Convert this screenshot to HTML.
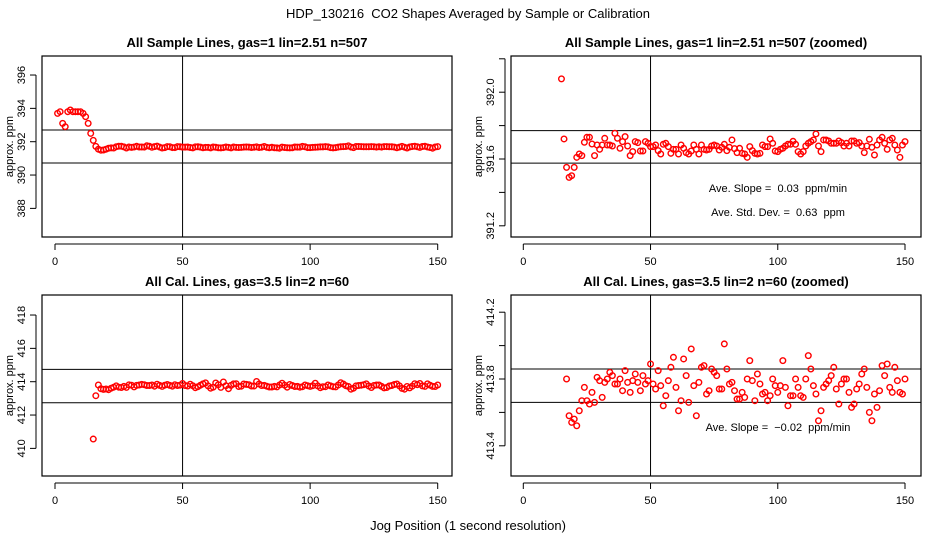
<!DOCTYPE html>
<html><head><meta charset="utf-8"><style>
html,body{margin:0;padding:0;background:#fff;}
svg{display:block;font-family:"Liberation Sans",sans-serif;}
svg text{white-space:pre;}
</style></head><body>
<svg id="c" width="936" height="540" viewBox="0 0 936 540">
<text x="468" y="18" text-anchor="middle" font-size="13">HDP_130216  CO2 Shapes Averaged by Sample or Calibration</text>
<text x="468" y="530" text-anchor="middle" font-size="13">Jog Position (1 second resolution)</text>
</svg>
<script>
// x positions 1..150 (sample)
const sampleHead = [393.7,393.8,393.1,392.9,393.8,393.9,393.8,393.8,393.8,393.8,393.7,393.5,393.1,392.5];
const sampleTail = [392.08,391.72,391.55,391.49,391.50,391.55,391.61,391.63,391.62,391.70,391.73,391.73,391.69,391.62,391.684,391.658,391.684,391.724,391.684,391.684,391.678,391.754,391.724,391.664,391.704,391.734,391.678,391.620,391.644,391.704,391.698,391.648,391.648,391.704,391.694,391.674,391.674,391.684,391.650,391.630,391.688,391.694,391.674,391.634,391.658,391.658,391.630,391.684,391.664,391.638,391.630,391.648,391.684,391.658,391.630,391.684,391.658,391.654,391.658,391.678,391.684,391.678,391.654,391.670,391.688,391.650,391.670,391.714,391.662,391.638,391.664,391.634,391.630,391.610,391.674,391.650,391.634,391.630,391.634,391.684,391.674,391.674,391.720,391.694,391.648,391.644,391.658,391.664,391.678,391.688,391.688,391.706,391.688,391.644,391.630,391.644,391.678,391.694,391.704,391.714,391.750,391.678,391.644,391.714,391.714,391.708,391.694,391.694,391.694,391.708,391.698,391.678,391.694,391.678,391.708,391.708,391.694,391.698,391.678,391.638,391.678,391.718,391.670,391.624,391.684,391.714,391.730,391.694,391.658,391.714,391.724,391.684,391.654,391.610,391.684,391.704];
const sampleValues = sampleHead.concat(sampleTail);
const calHead = [410.56,413.16];
const calTail = [413.80,413.58,413.54,413.56,413.52,413.61,413.67,413.75,413.67,413.65,413.72,413.66,413.81,413.79,413.69,413.78,413.80,413.84,413.82,413.77,413.77,413.80,413.73,413.85,413.78,413.72,413.79,413.83,413.78,413.73,413.82,413.77,413.79,413.89,413.77,413.74,413.85,413.76,413.64,413.70,413.79,413.87,413.93,413.75,413.61,413.67,413.92,413.82,413.66,413.98,413.76,413.58,413.78,413.87,413.88,413.71,413.73,413.86,413.84,413.82,413.74,413.74,414.01,413.86,413.77,413.78,413.73,413.68,413.68,413.72,413.69,413.80,413.91,413.79,413.67,413.83,413.77,413.71,413.72,413.67,413.70,413.80,413.76,413.72,413.76,413.91,413.75,413.64,413.70,413.70,413.80,413.75,413.70,413.69,413.80,413.94,413.86,413.76,413.71,413.55,413.61,413.75,413.77,413.79,413.82,413.87,413.74,413.65,413.77,413.80,413.80,413.72,413.63,413.65,413.74,413.77,413.83,413.86,413.75,413.60,413.55,413.71,413.63,413.73,413.88,413.82,413.89,413.75,413.72,413.87,413.79,413.72,413.71,413.80];
const calValues = calHead.concat(calTail);
const sampleStart = 1, calStart = 15;
const xTicks = [0,50,100,150];
const p1Ticks = [388,390,392,394,396], p1Lines = [392.7,390.72];
const p2Ticks = [391.2,391.4,391.6,391.8,392.0,392.2], p2Labels=[391.2,391.6,392.0], p2Lines=[391.77,391.575];
const p3Ticks = [410,412,414,416,418], p3Lines = [414.74,412.74];
const p4Ticks = [413.4,413.6,413.8,414.0,414.2], p4Labels=[413.4,413.8,414.2], p4Lines=[413.86,413.66];

const NS="http://www.w3.org/2000/svg", svg=document.getElementById('c');
function mk(tag,attrs,parent){const e=document.createElementNS(NS,tag);for(const k in attrs)e.setAttribute(k,attrs[k]);(parent||svg).appendChild(e);return e;}

function panel(cfg){
  const g=mk('g',{});
  
  
  const X=v=>cfg.x0+(cfg.x150-cfg.x0)*v/150;
  const Y=v=>cfg.yRefPx-(v-cfg.yRef)*cfg.ppu;
  const t=mk('text',{x:(cfg.l+cfg.r)/2,y:cfg.t-9,'text-anchor':'middle','font-size':13,'font-weight':'bold'},g);
  t.textContent=cfg.title;
  
  
  const cp='cp'+cfg.id;
  const clip=mk('clipPath',{id:cp},g); mk('rect',{x:cfg.l,y:cfg.t,width:cfg.r-cfg.l,height:cfg.b-cfg.t},clip);
  const box=mk('rect',{x:cfg.l,y:cfg.t,width:cfg.r-cfg.l,height:cfg.b-cfg.t,fill:'none',stroke:'#000','stroke-width':1.2},g);
  
  
  const ay=cfg.b+7;
  mk('line',{x1:X(0),x2:X(150),y1:ay,y2:ay,stroke:'#000'},g);
  xTicks.forEach(v=>{
    mk('line',{x1:X(v),x2:X(v),y1:ay,y2:ay+6,stroke:'#000'},g);
    const tx=mk('text',{x:X(v),y:ay+21,'text-anchor':'middle','font-size':11},g);
    tx.textContent=v;
    
    
  });
  const ax=cfg.l-6;
  mk('line',{x1:ax,x2:ax,y1:Y(cfg.yTicks[0]),y2:Y(cfg.yTicks[cfg.yTicks.length-1]),stroke:'#000'},g);
  cfg.yTicks.forEach(v=>mk('line',{x1:ax,x2:ax-6,y1:Y(v),y2:Y(v),stroke:'#000'},g));
  cfg.yLabels.forEach(v=>{
    const tx=mk('text',{x:0,y:0,'text-anchor':'middle','font-size':11,transform:`translate(${ax-11},${Y(v)}) rotate(-90)`},g);
    tx.textContent=cfg.fmt(v);
    
    
  });
  const yt=mk('text',{x:0,y:0,'text-anchor':'middle','font-size':11,transform:`translate(${cfg.l-29},${(cfg.t+cfg.b)/2}) rotate(-90)`},g);
  yt.textContent='approx. ppm';
  
  
  cfg.lines.forEach(v=>{
    const ln=mk('line',{x1:cfg.l,x2:cfg.r,y1:Y(v),y2:Y(v),stroke:'#000'},g);
    
    
  });
  const vl=mk('line',{x1:X(50),x2:X(50),y1:cfg.t,y2:cfg.b,stroke:'#000'},g);
  
  
  const pg=mk('g',{'clip-path':`url(#${cp})`},g);
  cfg.values.forEach((v,i)=>{
    const c=mk('circle',{cx:X(cfg.start+i),cy:Y(v),r:2.8,fill:'none',stroke:'#f00','stroke-width':1.4},pg);
    
    
  });
  (cfg.notes||[]).forEach(n=>{
    const tx=mk('text',{x:n[0],y:n[1],'text-anchor':'middle','font-size':11},g);
    tx.textContent=n[2];
    
    
  });
}
const f0=v=>String(v), f1=v=>v.toFixed(1);
panel({id:1,name:'panel-sample',title:'All Sample Lines, gas=1 lin=2.51 n=507',l:42,r:452,t:56,b:237,x0:55,x150:437.7,yRef:392,yRefPx:141.7,ppu:16.67,yTicks:p1Ticks,yLabels:p1Ticks,fmt:f0,lines:p1Lines,values:sampleValues,start:sampleStart});
panel({id:2,name:'panel-sample-zoomed',title:'All Sample Lines, gas=1 lin=2.51 n=507 (zoomed)',l:511,r:921,t:56,b:237,x0:523.3,x150:905,yRef:391.6,yRefPx:159,ppu:167,yTicks:p2Ticks,yLabels:p2Labels,fmt:f1,lines:p2Lines,values:sampleTail,start:15,
  notes:[[778,192,'Ave. Slope =  0.03  ppm/min'],[778,216,'Ave. Std. Dev. =  0.63  ppm']]});
panel({id:3,name:'panel-cal',title:'All Cal. Lines, gas=3.5 lin=2 n=60',l:42,r:452,t:295,b:476,x0:55,x150:437.7,yRef:414,yRefPx:381.7,ppu:16.67,yTicks:p3Ticks,yLabels:p3Ticks,fmt:f0,lines:p3Lines,values:calValues,start:calStart});
panel({id:4,name:'panel-cal-zoomed',title:'All Cal. Lines, gas=3.5 lin=2 n=60 (zoomed)',l:511,r:921,t:295,b:476,x0:523.3,x150:905,yRef:413.8,yRefPx:379,ppu:167,yTicks:p4Ticks,yLabels:p4Labels,fmt:f1,lines:p4Lines,values:calTail,start:17,
  notes:[[778,431,'Ave. Slope =  \u22120.02  ppm/min']]});
</script>
</body></html>
